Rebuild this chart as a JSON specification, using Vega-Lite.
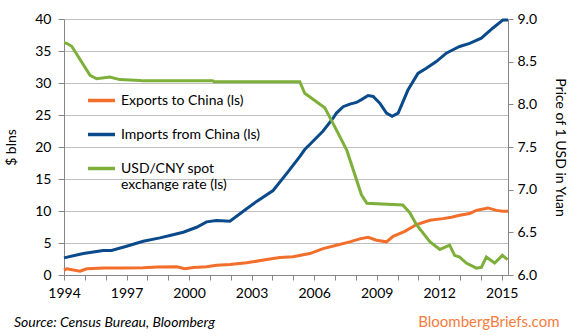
{
  "$schema": "https://vega.github.io/schema/vega-lite/v6.json",
  "width": 444,
  "height": 256,
  "autosize": {"type": "none"},
  "padding": {"left": 64, "top": 19, "right": 68, "bottom": 61},
  "background": "white",
  "config": {
    "font": "Lato",
    "view": {"stroke": null},
    "axis": {"labelFont": "Lato", "titleFont": "Lato", "labelColor": "#000000", "titleColor": "#000000", "labelFontSize": 14, "titleFontSize": 14, "titleFontWeight": "normal", "domainColor": "#868686", "tickColor": "#868686", "gridColor": "#BFBFBF"},
    "legend": {"labelFont": "Lato", "labelFontSize": 14, "labelColor": "#000000"}
  },
  "title": {"text": "Source: Census Bureau, Bloomberg", "orient": "bottom", "anchor": "start", "frame": "group", "fontStyle": "italic", "fontWeight": "normal", "fontSize": 14, "font": "Lato", "color": "#000000", "dx": -50, "dy": -17},
  "datasets": {
    "trade": [
      {"series": "Exports to China (ls)", "year": 1994.0, "value": 0.75},
      {"series": "Exports to China (ls)", "year": 1994.13, "value": 0.97},
      {"series": "Exports to China (ls)", "year": 1994.77, "value": 0.6},
      {"series": "Exports to China (ls)", "year": 1995.09, "value": 0.97},
      {"series": "Exports to China (ls)", "year": 1995.9, "value": 1.1},
      {"series": "Exports to China (ls)", "year": 1996.8, "value": 1.1},
      {"series": "Exports to China (ls)", "year": 1997.8, "value": 1.12},
      {"series": "Exports to China (ls)", "year": 1998.5, "value": 1.25},
      {"series": "Exports to China (ls)", "year": 1999.4, "value": 1.28},
      {"series": "Exports to China (ls)", "year": 1999.8, "value": 0.97},
      {"series": "Exports to China (ls)", "year": 2000.2, "value": 1.17},
      {"series": "Exports to China (ls)", "year": 2000.84, "value": 1.28},
      {"series": "Exports to China (ls)", "year": 2001.32, "value": 1.53},
      {"series": "Exports to China (ls)", "year": 2001.96, "value": 1.64},
      {"series": "Exports to China (ls)", "year": 2002.76, "value": 1.9},
      {"series": "Exports to China (ls)", "year": 2003.72, "value": 2.42},
      {"series": "Exports to China (ls)", "year": 2004.35, "value": 2.75},
      {"series": "Exports to China (ls)", "year": 2004.99, "value": 2.84},
      {"series": "Exports to China (ls)", "year": 2005.79, "value": 3.35},
      {"series": "Exports to China (ls)", "year": 2006.43, "value": 4.13},
      {"series": "Exports to China (ls)", "year": 2007.07, "value": 4.65},
      {"series": "Exports to China (ls)", "year": 2007.71, "value": 5.18},
      {"series": "Exports to China (ls)", "year": 2008.19, "value": 5.65},
      {"series": "Exports to China (ls)", "year": 2008.59, "value": 5.9},
      {"series": "Exports to China (ls)", "year": 2008.99, "value": 5.43},
      {"series": "Exports to China (ls)", "year": 2009.47, "value": 5.18},
      {"series": "Exports to China (ls)", "year": 2009.79, "value": 6.05},
      {"series": "Exports to China (ls)", "year": 2010.35, "value": 6.83},
      {"series": "Exports to China (ls)", "year": 2010.91, "value": 7.88},
      {"series": "Exports to China (ls)", "year": 2011.55, "value": 8.55},
      {"series": "Exports to China (ls)", "year": 2012.18, "value": 8.81},
      {"series": "Exports to China (ls)", "year": 2012.58, "value": 9.02},
      {"series": "Exports to China (ls)", "year": 2012.98, "value": 9.33},
      {"series": "Exports to China (ls)", "year": 2013.46, "value": 9.6},
      {"series": "Exports to China (ls)", "year": 2013.78, "value": 10.1},
      {"series": "Exports to China (ls)", "year": 2014.34, "value": 10.48},
      {"series": "Exports to China (ls)", "year": 2014.74, "value": 10.1},
      {"series": "Exports to China (ls)", "year": 2015.06, "value": 9.95},
      {"series": "Exports to China (ls)", "year": 2015.3, "value": 9.95},
      {"series": "Imports from China (ls)", "year": 1994.0, "value": 2.68},
      {"series": "Imports from China (ls)", "year": 1994.93, "value": 3.35},
      {"series": "Imports from China (ls)", "year": 1995.88, "value": 3.82},
      {"series": "Imports from China (ls)", "year": 1996.28, "value": 3.82},
      {"series": "Imports from China (ls)", "year": 1997.0, "value": 4.5},
      {"series": "Imports from China (ls)", "year": 1997.8, "value": 5.27},
      {"series": "Imports from China (ls)", "year": 1998.6, "value": 5.8},
      {"series": "Imports from China (ls)", "year": 1999.08, "value": 6.16},
      {"series": "Imports from China (ls)", "year": 1999.72, "value": 6.68},
      {"series": "Imports from China (ls)", "year": 2000.36, "value": 7.46},
      {"series": "Imports from China (ls)", "year": 2000.84, "value": 8.3},
      {"series": "Imports from China (ls)", "year": 2001.32, "value": 8.5},
      {"series": "Imports from China (ls)", "year": 2001.96, "value": 8.4},
      {"series": "Imports from China (ls)", "year": 2002.6, "value": 9.95},
      {"series": "Imports from China (ls)", "year": 2003.24, "value": 11.5},
      {"series": "Imports from China (ls)", "year": 2004.03, "value": 13.2},
      {"series": "Imports from China (ls)", "year": 2004.67, "value": 15.8},
      {"series": "Imports from China (ls)", "year": 2005.31, "value": 18.5},
      {"series": "Imports from China (ls)", "year": 2005.55, "value": 19.6},
      {"series": "Imports from China (ls)", "year": 2005.79, "value": 20.4},
      {"series": "Imports from China (ls)", "year": 2006.43, "value": 22.5},
      {"series": "Imports from China (ls)", "year": 2006.91, "value": 24.5},
      {"series": "Imports from China (ls)", "year": 2007.07, "value": 25.3},
      {"series": "Imports from China (ls)", "year": 2007.39, "value": 26.3},
      {"series": "Imports from China (ls)", "year": 2007.71, "value": 26.7},
      {"series": "Imports from China (ls)", "year": 2008.03, "value": 26.96},
      {"series": "Imports from China (ls)", "year": 2008.27, "value": 27.4},
      {"series": "Imports from China (ls)", "year": 2008.59, "value": 28.05},
      {"series": "Imports from China (ls)", "year": 2008.83, "value": 27.9},
      {"series": "Imports from China (ls)", "year": 2009.15, "value": 26.86},
      {"series": "Imports from China (ls)", "year": 2009.47, "value": 25.3},
      {"series": "Imports from China (ls)", "year": 2009.74, "value": 24.8},
      {"series": "Imports from China (ls)", "year": 2010.03, "value": 25.3},
      {"series": "Imports from China (ls)", "year": 2010.5, "value": 28.9},
      {"series": "Imports from China (ls)", "year": 2010.98, "value": 31.5},
      {"series": "Imports from China (ls)", "year": 2011.38, "value": 32.3},
      {"series": "Imports from China (ls)", "year": 2011.86, "value": 33.35},
      {"series": "Imports from China (ls)", "year": 2012.34, "value": 34.66},
      {"series": "Imports from China (ls)", "year": 2012.66, "value": 35.2},
      {"series": "Imports from China (ls)", "year": 2012.98, "value": 35.7},
      {"series": "Imports from China (ls)", "year": 2013.46, "value": 36.2},
      {"series": "Imports from China (ls)", "year": 2014.02, "value": 37.0},
      {"series": "Imports from China (ls)", "year": 2014.58, "value": 38.6},
      {"series": "Imports from China (ls)", "year": 2015.06, "value": 39.86},
      {"series": "Imports from China (ls)", "year": 2015.3, "value": 39.86}
    ],
    "fx": [
      {"series": "USD/CNY spot exchange rate (ls)", "year": 1994.0, "rate": 8.72},
      {"series": "USD/CNY spot exchange rate (ls)", "year": 1994.13, "rate": 8.715},
      {"series": "USD/CNY spot exchange rate (ls)", "year": 1994.37, "rate": 8.68},
      {"series": "USD/CNY spot exchange rate (ls)", "year": 1995.25, "rate": 8.34},
      {"series": "USD/CNY spot exchange rate (ls)", "year": 1995.57, "rate": 8.3},
      {"series": "USD/CNY spot exchange rate (ls)", "year": 1996.2, "rate": 8.32},
      {"series": "USD/CNY spot exchange rate (ls)", "year": 1996.68, "rate": 8.29},
      {"series": "USD/CNY spot exchange rate (ls)", "year": 1997.64, "rate": 8.28},
      {"series": "USD/CNY spot exchange rate (ls)", "year": 1997.79, "rate": 8.275},
      {"series": "USD/CNY spot exchange rate (ls)", "year": 2001.14, "rate": 8.275},
      {"series": "USD/CNY spot exchange rate (ls)", "year": 2001.2, "rate": 8.265},
      {"series": "USD/CNY spot exchange rate (ls)", "year": 2005.31, "rate": 8.265},
      {"series": "USD/CNY spot exchange rate (ls)", "year": 2005.55, "rate": 8.13},
      {"series": "USD/CNY spot exchange rate (ls)", "year": 2006.51, "rate": 7.96},
      {"series": "USD/CNY spot exchange rate (ls)", "year": 2006.9, "rate": 7.78},
      {"series": "USD/CNY spot exchange rate (ls)", "year": 2007.57, "rate": 7.46},
      {"series": "USD/CNY spot exchange rate (ls)", "year": 2008.19, "rate": 7.0},
      {"series": "USD/CNY spot exchange rate (ls)", "year": 2008.27, "rate": 6.94},
      {"series": "USD/CNY spot exchange rate (ls)", "year": 2008.53, "rate": 6.84},
      {"series": "USD/CNY spot exchange rate (ls)", "year": 2010.25, "rate": 6.82},
      {"series": "USD/CNY spot exchange rate (ls)", "year": 2010.59, "rate": 6.73},
      {"series": "USD/CNY spot exchange rate (ls)", "year": 2010.91, "rate": 6.59},
      {"series": "USD/CNY spot exchange rate (ls)", "year": 2011.55, "rate": 6.39},
      {"series": "USD/CNY spot exchange rate (ls)", "year": 2012.03, "rate": 6.3},
      {"series": "USD/CNY spot exchange rate (ls)", "year": 2012.5, "rate": 6.35},
      {"series": "USD/CNY spot exchange rate (ls)", "year": 2012.74, "rate": 6.23},
      {"series": "USD/CNY spot exchange rate (ls)", "year": 2012.98, "rate": 6.21},
      {"series": "USD/CNY spot exchange rate (ls)", "year": 2013.3, "rate": 6.14},
      {"series": "USD/CNY spot exchange rate (ls)", "year": 2013.78, "rate": 6.08},
      {"series": "USD/CNY spot exchange rate (ls)", "year": 2014.02, "rate": 6.09},
      {"series": "USD/CNY spot exchange rate (ls)", "year": 2014.26, "rate": 6.21},
      {"series": "USD/CNY spot exchange rate (ls)", "year": 2014.66, "rate": 6.14},
      {"series": "USD/CNY spot exchange rate (ls)", "year": 2015.03, "rate": 6.23},
      {"series": "USD/CNY spot exchange rate (ls)", "year": 2015.28, "rate": 6.18}
    ]
  },
  "encoding": {
    "x": {
      "field": "year", "type": "quantitative",
      "scale": {"domain": [1994, 2015.3], "nice": false, "zero": false},
      "axis": {
        "values": [1994,1995,1996,1997,1998,1999,2000,2001,2002,2003,2004,2005,2006,2007,2008,2009,2010,2011,2012,2013,2014,2015],
        "labelExpr": "(datum.value - 1994) % 3 == 0 ? format(datum.value, 'd') : ''",
        "grid": false, "tickSize": 5, "labelPadding": 6, "labelFlush": false, "labelOverlap": false,
        "title": "BloombergBriefs.com", "titleColor": "#F47C3C", "titleX": 495, "titleY": 46, "titleAlign": "right", "titleBaseline": "middle", "titleFontSize": 15
      }
    },
    "color": {
      "field": "series", "type": "nominal",
      "scale": {"domain": ["Exports to China (ls)", "Imports from China (ls)", "USD/CNY spot exchange rate (ls)"], "range": ["#F26E2B", "#0B4A8A", "#7DAF3A"]},
      "legend": {
        "title": null, "orient": "none", "legendX": 22, "legendY": 66,
        "symbolType": "stroke", "symbolSize": 729, "symbolStrokeWidth": 3.5,
        "labelOffset": 4, "rowPadding": 11, "labelLimit": 300,
        "labelExpr": "datum.label == 'USD/CNY spot exchange rate (ls)' ? ['USD/CNY spot', 'exchange rate (ls)'] : datum.label"
      }
    }
  },
  "layer": [
    {
      "data": {"name": "trade"},
      "mark": {"type": "line", "strokeWidth": 3},
      "encoding": {
        "y": {
          "field": "value", "type": "quantitative",
          "scale": {"domain": [0, 40], "nice": false},
          "axis": {"values": [0,5,10,15,20,25,30,35,40], "title": "$ blns", "titlePadding": 16, "tickSize": 6, "labelPadding": 7, "grid": true}
        }
      }
    },
    {
      "data": {"name": "fx"},
      "mark": {"type": "line", "strokeWidth": 3},
      "encoding": {
        "y": {
          "field": "rate", "type": "quantitative",
          "scale": {"domain": [6, 9], "nice": false, "zero": false},
          "axis": {"orient": "right", "values": [6,6.5,7,7.5,8,8.5,9], "format": ".1f", "title": "Price of 1 USD in Yuan", "titlePadding": 16, "tickSize": 5, "labelPadding": 4, "grid": false}
        }
      }
    }
  ],
  "resolve": {"scale": {"y": "independent"}}
}
